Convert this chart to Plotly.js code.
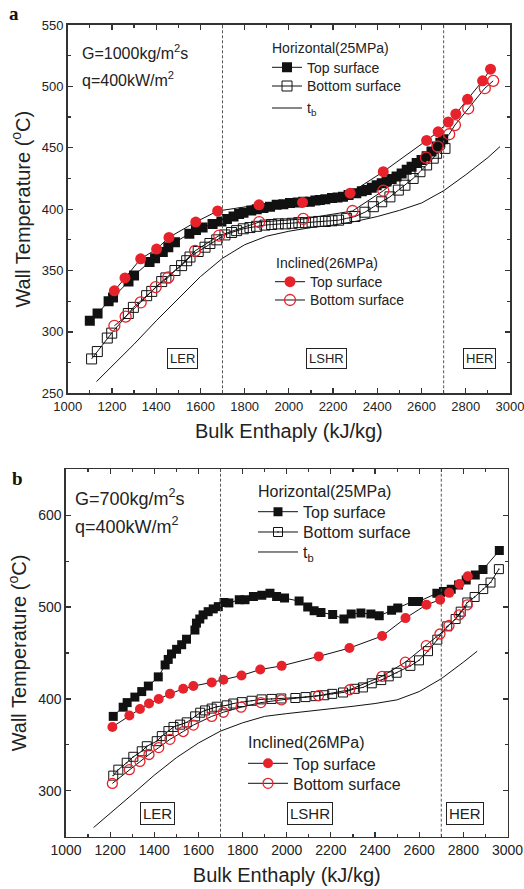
<!DOCTYPE html>
<html><head><meta charset="utf-8">
<script src="https://cdn.plot.ly/plotly-3.0.1.min.js"></script>
<style>html,body{margin:0;padding:0;background:#fff}#chart{width:524px;height:889px}</style>
</head><body><div id="chart"></div>
<script>
// ---------- Panel a : G=1000 kg/m2s ----------
const a_hTop_x = [1100,1135,1185,1205,1275,1300,1370,1395,1430,1455,1485,1550,1580,1610,1655,1695,1720,1750,1775,1795,1830,1855,1885,1915,1945,1975,2005,2040,2065,2095,2120,2140,2165,2195,2220,2245,2270,2305,2330,2352,2375,2397,2420,2442,2465,2487,2510,2533,2555,2578,2600,2623,2645,2668,2685,2698];
const a_hTop_y = [309,315,325,328,341,346,357,360,365,369,373,380,383,385,388,390,392,394,396,397,399,400,401,402,403.5,404,405,405.5,406,406,407,407.5,408,409,409.5,410,411.5,413,414.5,415.5,417.5,419.5,421,422.5,424.5,426.5,429,432,434.5,437.5,440,443,447,451,454,457];
const a_hBot_x = [1108,1134,1179,1199,1274,1297,1357,1380,1425,1444,1485,1515,1538,1553,1590,1621,1643,1674,1711,1741,1764,1794,1824,1854,1892,1922,1952,1985,2015,2045,2075,2105,2135,2165,2195,2225,2261,2299,2344,2382,2420,2457,2495,2525,2562,2593,2623,2653,2668,2706];
const a_hBot_y = [278,284,295,299,315,320,329.5,333,341,344,350,354,358,361,365.5,369,372,375,379,381,382.5,384,385,386,387,387.5,388,388,388.5,389,389,389.5,390,390,390.5,391,392.5,394,397.5,402,406,410,415.5,419.5,425,430.5,436,441.5,445.5,449.5];
const a_tb_x = [1130,1200,1300,1400,1500,1600,1700,1800,1900,2000,2100,2200,2300,2400,2500,2600,2700,2800,2900,2955];
const a_tb_y = [259.5,272,290,309,327,345,360,371,378,382,385,387,390,394,399,405,415,428,442,451];
const a_iTop_x = [1211,1259,1330,1402,1458,1579,1678,1865,2062,2277,2427,2623,2675,2721,2755,2808,2876,2912];
const a_iTop_y = [333.5,344,359.5,367.5,377,389.5,398.5,403.5,405.5,413,430.5,456,463,471,477.5,489.5,504.5,514];
const a_iBot_x = [1211,1262,1330,1398,1455,1576,1685,1866,2065,2288,2427,2620,2673,2725,2751,2811,2886,2924];
const a_iBot_y = [305,312.5,324,336.5,344.5,366,378.5,389.5,392,398.5,415,442,451,461,468.5,482,498.5,504.5];

// ---------- Panel b : G=700 kg/m2s ----------
const b_hTop_x = [1214,1259,1277,1312,1343,1373,1418,1449,1463,1478,1501,1524,1546,1584,1591,1606,1621,1644,1667,1690,1716,1738,1785,1811,1849,1887,1924,1954,1990,2056,2095,2124,2155,2208,2259,2292,2336,2381,2419,2475,2503,2570,2597,2680,2710,2745,2778,2813,2854,2889,2963];
const b_hTop_y = [381,391,396,402,408,414,424,437,443,449,454,459,465,475,482.5,487,491.5,495,498,500.5,505,504.5,508,508,511.5,513,515,511.5,510,506.5,500,496,494,492,487,492.5,493.5,492.5,490.5,496.5,499,506,506,515,517,519.5,524,529.5,535,541,561.5];
const b_hBot_x = [1214,1237,1275,1305,1343,1366,1411,1434,1464,1487,1517,1547,1585,1608,1630,1660,1683,1728,1758,1796,1841,1886,1931,1975,2039,2085,2130,2170,2206,2255,2308,2345,2385,2428,2462,2498,2560,2599,2640,2682,2727,2765,2788,2818,2851,2890,2923,2961];
const b_hBot_y = [316.5,323,330.5,337,343,348.5,354,359.5,365,369.5,372,374.5,381,385,387.5,389.5,391.5,393,395,396.5,398,399.5,400,400.5,401,402,403,404,405.5,407,411,412.5,417,420.5,424.6,428.5,436,442,452,464.5,479,487,495,505,511,519.6,526.7,541.3];
const b_tb_x = [1125,1200,1300,1400,1500,1600,1700,1800,1900,2000,2100,2200,2300,2400,2500,2600,2700,2800,2863];
const b_tb_y = [260,275,296,317,336,352,365,374,381,384,386.5,389,392,395,399,408,422,440,452];
const b_iTop_x = [1210,1287,1335,1376,1420,1471,1531,1577,1660,1713,1795,1880,1977,2145,2284,2432,2538,2633,2695,2736,2782,2820];
const b_iTop_y = [369.5,382,389,395,400,405.5,411,414,418,421,425.5,432,436,446.3,455.4,468.5,488,502.5,508,515.5,525,533.5];
const b_iBot_x = [1210,1287,1335,1376,1420,1471,1531,1577,1660,1713,1793,1883,1976,2144,2285,2432,2537,2632,2694,2735,2781,2818];
const b_iBot_y = [308,323,332,339.5,347,356,364.5,371.5,381,385.5,391,396,399,403.6,410,424.6,440,458,470.7,480,491.6,502.5];

// ---------- shared labels ----------
const regionBounds = [1700, 2700];
const regionNames = ['LER', 'LSHR', 'HER'];
const seriesNames = ['Top surface', 'Bottom surface', 't<sub>b</sub>'];
const groupTitles = ['Horizontal(25MPa)', 'Inclined(26MPa)'];
const panelLabels = ['a', 'b'];
const conditionsA = ['G=1000kg/m<sup>2</sup>s', 'q=400kW/m<sup>2</sup>'];
const conditionsB = ['G=700kg/m<sup>2</sup>s', 'q=400kW/m<sup>2</sup>'];

const RED = '#e8222b', BLK = '#111';
const FONT = 'Liberation Sans, Arial, sans-serif';

// lg: five legend ids, one per series (hTop, hBot, tb, iTop, iBot)
function traces(p, xa, ya, lg, sq, openSq, msz) {
  return [
    {x: p.hTop_x, y: p.hTop_y, name: seriesNames[0], xaxis: xa, yaxis: ya, legend: lg[0], mode: 'lines+markers',
     line: {color: BLK, width: 1}, marker: {symbol: 'square', size: sq, color: BLK}},
    {x: p.hBot_x, y: p.hBot_y, name: seriesNames[1], xaxis: xa, yaxis: ya, legend: lg[1], mode: 'lines+markers',
     line: {color: BLK, width: 1}, marker: {symbol: openSq, size: sq, color: BLK, line: {width: 1, color: BLK}}},
    {x: p.tb_x, y: p.tb_y, name: seriesNames[2], xaxis: xa, yaxis: ya, legend: lg[2], mode: 'lines',
     line: {color: BLK, width: 1}},
    {x: p.iTop_x, y: p.iTop_y, name: seriesNames[0], xaxis: xa, yaxis: ya, legend: lg[3], mode: 'lines+markers',
     line: {color: BLK, width: 1}, marker: {symbol: 'circle', size: msz, color: RED}},
    {x: p.iBot_x, y: p.iBot_y, name: seriesNames[1], xaxis: xa, yaxis: ya, legend: lg[4], mode: 'lines+markers',
     line: {color: BLK, width: 1}, marker: {symbol: 'circle-open', size: msz, color: RED, line: {width: 1.3, color: RED}}}
  ];
}

const pa = {hTop_x: a_hTop_x, hTop_y: a_hTop_y, hBot_x: a_hBot_x, hBot_y: a_hBot_y, tb_x: a_tb_x, tb_y: a_tb_y,
            iTop_x: a_iTop_x, iTop_y: a_iTop_y, iBot_x: a_iBot_x, iBot_y: a_iBot_y};
const pb = {hTop_x: b_hTop_x, hTop_y: b_hTop_y, hBot_x: b_hBot_x, hBot_y: b_hBot_y, tb_x: b_tb_x, tb_y: b_tb_y,
            iTop_x: b_iTop_x, iTop_y: b_iTop_y, iBot_x: b_iBot_x, iBot_y: b_iBot_y};

const data = [].concat(
  traces(pa, 'x', 'y', ['legend', 'legend2', 'legend3', 'legend4', 'legend5'], 10, 'square-open', 11),
  traces(pb, 'x2', 'y2', ['legend6', 'legend7', 'legend8', 'legend9', 'legend10'], 9, 'square-open-dot', 10)
);

function xax(domain, anchor, tf) {
  return {domain: domain, anchor: anchor, range: [1000, 3000], tick0: 1000, dtick: 200,
    ticks: 'inside', ticklen: 5, tickwidth: 1.2, tickcolor: '#333', ticklabeloverflow: 'allow',
    minor: {dtick: 100, ticks: 'inside', ticklen: 3, tickcolor: '#333'},
    showline: true, linecolor: '#333', linewidth: 1.6, mirror: 'allticks',
    showgrid: false, zeroline: false, tickfont: {size: tf, color: '#222'},
    title: {text: 'Bulk Enthaply (kJ/kg)', font: {size: 20, color: '#222'}, standoff: 11}};
}
function yax(domain, anchor, range, dt, mdt, tf) {
  return {domain: domain, anchor: anchor, range: range, dtick: dt,
    ticks: 'inside', ticklen: 5, tickwidth: 1.2, tickcolor: '#333', ticklabeloverflow: 'allow',
    minor: {dtick: mdt, ticks: 'inside', ticklen: 3, tickcolor: '#333'},
    showline: true, linecolor: '#333', linewidth: 1.6, mirror: 'allticks',
    showgrid: false, zeroline: false, tickfont: {size: tf, color: '#222'},
    title: {text: 'Wall Temperature (<sup>o</sup>C)', font: {size: 20, color: '#222'}, standoff: 6}};
}

const shapes = [];
[['x', 'y domain'], ['x2', 'y2 domain']].forEach(r => regionBounds.forEach(b => shapes.push({
  type: 'line', xref: r[0], yref: r[1], x0: b, x1: b, y0: 0, y1: 1,
  line: {color: '#555', width: 1, dash: '3px,2px'}})));

function box(text, xref, yref, x, y, fs) {
  return {text: text, xref: xref, yref: yref, x: x, y: y, showarrow: false,
    font: {size: fs, color: '#222'}, bordercolor: '#222', borderwidth: 1, borderpad: 2, bgcolor: '#fff'};
}
function txt(text, x, y, fs, extra) {
  return Object.assign({text: text, xref: 'paper', yref: 'paper', x: x, y: y, xanchor: 'left', yanchor: 'middle',
    showarrow: false, font: {size: fs, color: '#222'}}, extra || {});
}
const H = 889, W = 524;
const annotations = [
  box(regionNames[0], 'x', 'y', 1517, 278, 13),
  box(regionNames[1], 'x', 'y', 2170, 278, 13),
  box(regionNames[2], 'x', 'y', 2862, 278, 13),
  box(regionNames[0], 'x2', 'y2', 1414, 275, 15),
  box(regionNames[1], 'x2', 'y2', 2105, 275, 15),
  box(regionNames[2], 'x2', 'y2', 2806, 275, 15),
  txt(conditionsA[0], 80 / W, 1 - 52 / H, 16),
  txt(conditionsA[1], 80 / W, 1 - 79 / H, 16),
  txt(conditionsB[0], 73 / W, 1 - 497 / H, 18),
  txt(conditionsB[1], 73 / W, 1 - 525 / H, 18),
  txt(groupTitles[0], 270 / W, 1 - 48.3 / H, 14),
  txt(groupTitles[1], 273.5 / W, 1 - 263.3 / H, 14),
  txt(groupTitles[0], 256 / W, 1 - 491 / H, 16),
  txt(groupTitles[1], 246 / W, 1 - 742 / H, 16),
  txt('<b>' + panelLabels[0] + '</b>', 7 / W, 1 - 14 / H, 19, {font: {size: 19, color: '#111', family: 'Liberation Serif, serif'}}),
  txt('<b>' + panelLabels[1] + '</b>', 10 / W, 1 - 478 / H, 19, {font: {size: 19, color: '#111', family: 'Liberation Serif, serif'}})
];

function lg(x, yc, fs, iw) {
  const top = yc - (1.3 * fs + 3) / 2 - 5;
  return {x: x / W, y: 1 - top / H, xanchor: 'left', yanchor: 'top', bgcolor: 'rgba(0,0,0,0)',
    borderwidth: 0, itemwidth: iw, font: {size: fs, color: '#222'}};
}

const layout = {
  width: W, height: H, margin: {l: 0, r: 0, t: 0, b: 0},
  paper_bgcolor: '#fff', plot_bgcolor: '#fff', font: {family: FONT, color: '#222'},
  showlegend: true,
  xaxis: xax([67.7 / W, 510 / W], 'y', 13),
  yaxis: yax([1 - 393.3 / H, 1 - 25 / H], 'x', [250, 550], 50, 25, 13),
  xaxis2: xax([66 / W, 507.5 / W], 'y2', 14),
  yaxis2: yax([1 - 836.7 / H, 1 - 469.3 / H], 'x2', [250, 650], 100, 50, 14),
  legend:  lg(267, 67.3, 14, 30),
  legend2: lg(267, 86, 14, 30),
  legend3: lg(267, 108, 14, 30),
  legend4: lg(270, 281.7, 14, 30),
  legend5: lg(270, 300, 14, 30),
  legend6: lg(253, 511.7, 16, 40),
  legend7: lg(253, 532, 16, 40),
  legend8: lg(253, 552, 16, 40),
  legend9: lg(243, 763.3, 16, 40),
  legend10: lg(243, 783.3, 16, 40),
  shapes: shapes,
  annotations: annotations
};

Plotly.newPlot('chart', data, layout, {displayModeBar: false, staticPlot: true});
</script></body></html>
